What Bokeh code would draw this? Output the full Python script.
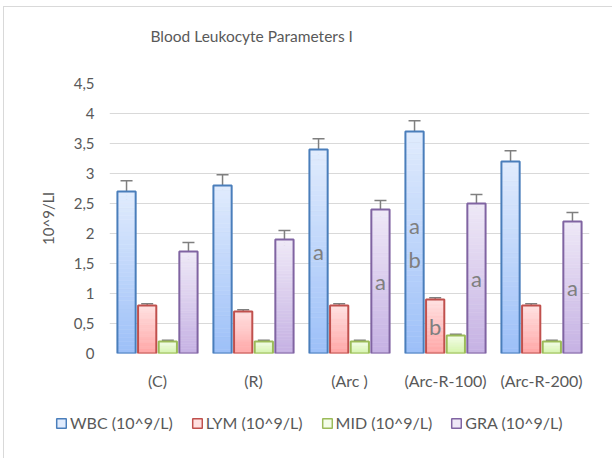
import numpy as np
from bokeh.plotting import figure
from bokeh.layouts import column
from bokeh.models import (ColumnDataSource, Whisker, TeeHead, Legend, LegendItem,
                          FixedTicker, CustomJSTickFormatter, Range1d, Label)
from bokeh.core.properties import value
from bokeh.embed import file_html
from bokeh.resources import INLINE

categories = ["(C)", "(R)", "(Arc )", "(Arc-R-100)", "(Arc-R-200)"]
series_names = ["WBC (10^9/L)", "LYM (10^9/L)", "MID (10^9/L)", "GRA (10^9/L)"]
wbc = [2.7, 2.8, 3.4, 3.7, 3.2]
lym = [0.8, 0.7, 0.8, 0.9, 0.8]
mid = [0.2, 0.2, 0.2, 0.3, 0.2]
gra = [1.7, 1.9, 2.4, 2.5, 2.2]
wbc_err = [0.18, 0.18, 0.18, 0.18, 0.18]
lym_err = [0.03, 0.03, 0.03, 0.03, 0.03]
mid_err = [0.02, 0.02, 0.02, 0.02, 0.02]
gra_err = [0.15, 0.15, 0.15, 0.15, 0.15]
wbc_lbl = ["", "", "a", "a\nb", ""]
lym_lbl = ["", "", "", "b", ""]
mid_lbl = ["", "", "", "", ""]
gra_lbl = ["", "", "a", "a", "a"]
y_ticks = [0, 0.5, 1, 1.5, 2, 2.5, 3, 3.5, 4, 4.5]
title_text = "Blood Leukocyte Parameters I"

values = [wbc, lym, mid, gra]
errors = [wbc_err, lym_err, mid_err, gra_err]
labels = [wbc_lbl, lym_lbl, mid_lbl, gra_lbl]
outline = ["#4a7ebb", "#c0504d", "#9bbb59", "#8064a2"]
top_col = ["#e0ebfd", "#ffe0e0", "#f3fde8", "#eee8f7"]
bot_col = ["#9dc0f8", "#ffa6a6", "#d4f3aa", "#c6b2e3"]

TXT = "#595959"
FONT = "Lato"
W = 608

def no_align(fig):
    if "frame_align" in fig.properties():
        fig.frame_align = False

# title strip
tf = figure(width=W, height=50, output_backend="svg", toolbar_location=None,
            x_axis_type=None, y_axis_type=None, min_border=0,
            x_range=Range1d(0, W), y_range=Range1d(0, 50))
tf.outline_line_color = None
tf.xgrid.grid_line_color = None
tf.ygrid.grid_line_color = None
tf.add_layout(Label(x=146, y=22, text=title_text, text_align="left",
                    text_baseline="middle", text_font=FONT,
                    text_font_size="15.5px", text_color=TXT))
no_align(tf)

p = figure(width=W, height=343, output_backend="svg", toolbar_location=None,
           x_range=Range1d(0, len(categories)), y_range=Range1d(0, 4.5),
           min_border_left=105, min_border_right=23, min_border_top=26,
           min_border_bottom=47)
p.outline_line_color = None
p.xgrid.grid_line_color = None
p.ygrid.grid_line_color = "#d9d9d9"
p.ygrid.grid_line_width = 1
no_align(p)

def hex2rgb(h):
    return np.array([int(h[i:i + 2], 16) for i in (1, 3, 5)], dtype=float)

def rgb2hex(c):
    return "#%02x%02x%02x" % tuple(int(round(v)) for v in c)

N = 40
step = 0.215
bw = 0.19
offsets = [(-1.5 + k) * step for k in range(4)]
centers = np.arange(len(categories)) + 0.5

# legend strip below the chart
lf = figure(width=W, height=58, output_backend="svg", toolbar_location=None,
            x_axis_type=None, y_axis_type=None, min_border=0,
            x_range=Range1d(0, 1), y_range=Range1d(0, 1))
lf.outline_line_color = None
lf.xgrid.grid_line_color = None
lf.ygrid.grid_line_color = None
no_align(lf)

legend_items = []
for s in range(4):
    xs = centers + offsets[s]
    vals = np.array(values[s], dtype=float)
    c0 = hex2rgb(bot_col[s])
    c1 = hex2rgb(top_col[s])
    sx, sb, st, sc = [], [], [], []
    for i in range(len(categories)):
        for k in range(N):
            sx.append(xs[i])
            sb.append(vals[i] * k / N)
            st.append(vals[i] * (k + 1) / N)
            sc.append(rgb2hex(c0 + (c1 - c0) * k / (N - 1)))
    p.vbar(x="x", bottom="b", top="t", width=bw, fill_color="c", line_color="c",
           line_width=0.6, source=ColumnDataSource(dict(x=sx, b=sb, t=st, c=sc)))
    src = ColumnDataSource(dict(x=xs, top=vals,
                                up=vals + np.array(errors[s]),
                                lo=vals - np.array(errors[s]),
                                mid=vals / 2, lbl=labels[s]))
    p.vbar(x="x", top="top", bottom=0, width=bw, fill_alpha=0,
           line_color=outline[s], line_width=2, source=src)
    p.add_layout(Whisker(source=src, base="x", upper="up", lower="lo",
                         line_color="#7f7f7f", line_width=1.5,
                         upper_head=TeeHead(size=12, line_color="#7f7f7f", line_width=1.5),
                         lower_head=TeeHead(size=12, line_color="#7f7f7f", line_width=1.5)))
    p.text(x="x", y="mid", text="lbl", source=src, text_align="center",
           text_baseline="middle", text_font=value(FONT), text_font_size="22px",
           text_color="#7f7f7f", text_line_height=1.25)
    # legend swatch renderer: a single NaN row, so nothing is drawn in the strip
    lr = lf.vbar(x=np.array([np.nan]), top=np.array([np.nan]), width=0.1,
                 fill_color=top_col[s], line_color=outline[s], line_width=1.5)
    legend_items.append(LegendItem(label=series_names[s], renderers=[lr]))

legend = Legend(items=legend_items, orientation="horizontal", location=(51, 26),
                glyph_width=12, glyph_height=12, label_standoff=3, spacing=18,
                padding=0, margin=0, border_line_color=None, background_fill_alpha=0,
                label_text_font=FONT, label_text_font_size="16px",
                label_text_color=TXT)
lf.add_layout(legend, "center")

p.xaxis.ticker = FixedTicker(ticks=list(centers))
p.xaxis.major_label_overrides = {float(c): lab for c, lab in zip(centers, categories)}
p.xaxis.axis_line_color = None
p.xaxis.major_tick_line_color = None
p.xaxis.minor_tick_line_color = None
p.xaxis.major_label_standoff = 11
p.xaxis.major_label_text_font = FONT
p.xaxis.major_label_text_font_size = "16px"
p.xaxis.major_label_text_color = TXT

p.yaxis.ticker = FixedTicker(ticks=y_ticks)
p.yaxis.formatter = CustomJSTickFormatter(code="return String(tick).replace('.', ',');")
p.yaxis.axis_line_color = None
p.yaxis.major_tick_line_color = None
p.yaxis.minor_tick_line_color = None
p.yaxis.major_label_standoff = 9
p.yaxis.major_label_text_font = FONT
p.yaxis.major_label_text_font_size = "15px"
p.yaxis.major_label_text_color = TXT
p.yaxis.axis_label = "10^9/Ll"
p.yaxis.axis_label_standoff = 14
p.yaxis.axis_label_text_font = FONT
p.yaxis.axis_label_text_font_size = "15px"
p.yaxis.axis_label_text_font_style = "normal"
p.yaxis.axis_label_text_color = TXT

layout = column(tf, p, lf, spacing=0)
layout.styles = {"border-left": "1px solid #d9d9d9", "border-top": "1px solid #d9d9d9",
                 "margin-left": "3px", "margin-top": "6px"}

open("out.html", "w").write(file_html(layout, INLINE))
